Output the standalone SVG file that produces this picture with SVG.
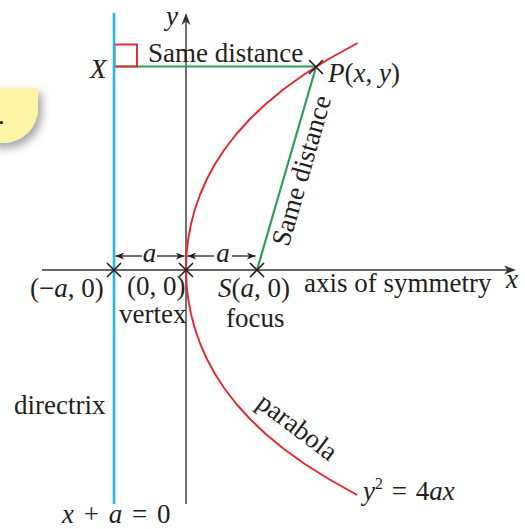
<svg xmlns="http://www.w3.org/2000/svg" width="525" height="529" viewBox="0 0 525 529">
<style>
  text { font-family: "Liberation Serif", "Times New Roman", serif; font-size: 27px; fill: #231f20; }
  .it { font-style: italic; }
  .axis { stroke: #333; stroke-width: 1.4; fill: none; }
  .cross { stroke: #231f20; stroke-width: 1.6; fill: none; }
  .dim { stroke: #231f20; stroke-width: 1.3; fill: none; }
  .dir { stroke: #29b6e6; stroke-width: 2.6; fill: none; }
  .grn { stroke: #2f9e5a; stroke-width: 2.2; fill: none; }
  .red { stroke: #e8252d; stroke-width: 1.9; fill: none; }
</style>
<defs>
  <marker id="ah" viewBox="0 0 10 8" refX="10" refY="4" markerWidth="9" markerHeight="7" markerUnits="userSpaceOnUse" orient="auto">
    <path d="M0,0 L10,4 L0,8 L3,4 Z" fill="#231f20"/>
  </marker>
  <filter id="sh" x="-30%" y="-30%" width="160%" height="160%">
    <feDropShadow dx="4" dy="5" stdDeviation="4" flood-color="#000" flood-opacity="0.35"/>
  </filter>
</defs>
<rect width="525" height="529" fill="#fff"/>

<g id="badge">
  <path d="M-10,88 H38 V108 A35,35 0 0 1 3,143 H-10 Z" fill="#fdf5a6" filter="url(#sh)"/>
  <circle cx="1.5" cy="122.5" r="1.6" fill="#231f20"/>
</g>

<g id="connectors">
  <line class="axis" x1="42" y1="270" x2="508" y2="270"/>
  <path d="M516,270 L504,265.5 L507.5,270 L504,274.5 Z" fill="#333"/>
  <line class="axis" x1="186" y1="504" x2="186" y2="22"/>
  <path d="M186,13 L190.5,25 L186,21.5 L181.5,25 Z" fill="#333"/>
  <line class="grn" x1="114" y1="66.5" x2="316" y2="66.5"/>
  <line class="grn" x1="257" y1="270" x2="316" y2="67"/>
  <rect x="114.5" y="44.5" width="22.5" height="22" class="red" stroke-width="1.4"/>
  <line class="dim" x1="142" y1="256" x2="115.5" y2="256" marker-end="url(#ah)"/>
  <line class="dim" x1="157" y1="256" x2="184.5" y2="256" marker-end="url(#ah)"/>
  <line class="dim" x1="214" y1="256" x2="187.5" y2="256" marker-end="url(#ah)"/>
  <line class="dim" x1="232" y1="256" x2="255.5" y2="256" marker-end="url(#ah)"/>
</g>

<g id="directrix">
  <line class="dir" x1="114" y1="13" x2="114" y2="504"/>
  <text x="14" y="414">directrix</text>
  <text x="62" y="523" word-spacing="3"><tspan class="it">x</tspan> + <tspan class="it">a</tspan> = 0</text>
</g>

<g id="parabola">
  <path class="red" stroke-linejoin="round" d="M357.7,43 L328.7,59 L304.8,74 L283.9,89 L265.7,104 L250,119 L236.4,134 L224.8,149 L215,164 L206.9,179 L200.3,194 L195,209 L191,224 L188.2,239 L186.55,254 L186,269 L186.55,284 L188.2,299 L191,314 L195,329 L200.3,344 L206.9,359 L215,374 L224.8,389 L236.4,404 L250,419 L265.7,434 L283.9,449 L304.8,464 L328.7,479 L357.2,495"/>
  <text transform="translate(292,434) rotate(37)" text-anchor="middle">parabola</text>
  <text x="363" y="500" word-spacing="2"><tspan class="it">y</tspan><tspan font-size="16" dy="-11">2</tspan><tspan dy="11"> = 4</tspan><tspan class="it">ax</tspan></text>
</g>

<g id="point-X">
  <text class="it" x="90" y="78">X</text>
</g>

<g id="point-P">
  <path class="cross" d="M309,60 L323,74 M323,60 L309,74"/>
  <text x="328" y="82"><tspan class="it">P</tspan>(<tspan class="it">x</tspan>, <tspan class="it">y</tspan>)</text>
</g>

<g id="point-neg-a">
  <path class="cross" d="M107,263 L121,277 M121,263 L107,277"/>
  <text x="30" y="297">(−<tspan class="it">a</tspan>, 0)</text>
</g>

<g id="vertex">
  <path class="cross" d="M179,263 L193,277 M193,263 L179,277"/>
  <text x="127" y="295" font-size="26">(0, 0)</text>
  <text x="119" y="323" font-size="24">vertex</text>
</g>

<g id="focus">
  <path class="cross" d="M250,263 L264,277 M264,263 L250,277"/>
  <text x="218" y="297"><tspan class="it">S</tspan>(<tspan class="it">a</tspan>, 0)</text>
  <text x="226" y="327">focus</text>
</g>

<g id="labels">
  <text class="it" x="166" y="25">y</text>
  <text class="it" x="506" y="288">x</text>
  <text x="304" y="292">axis of symmetry</text>
  <text x="148" y="62">Same distance</text>
  <text transform="translate(310,173) rotate(-74)" text-anchor="middle">Same distance</text>
  <text class="it" x="149.5" y="261.5" font-size="24" text-anchor="middle">a</text>
  <text class="it" x="223" y="261.5" font-size="24" text-anchor="middle">a</text>
</g>
</svg>
